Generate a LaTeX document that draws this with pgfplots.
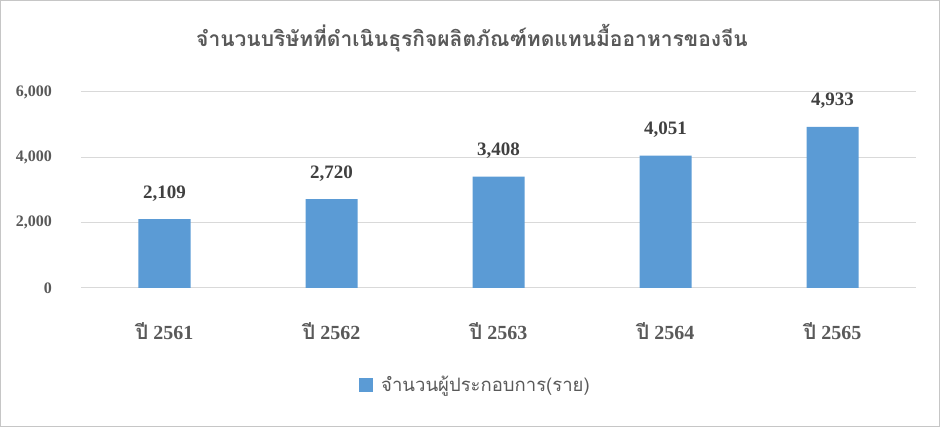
\documentclass[border=0pt]{standalone}
\usepackage{pgfplots}
\pgfplotsset{compat=1.18}
\usepackage{fontspec}
\setmainfont{Liberation Serif}
\newfontfamily\thai[Script=Thai]{Loma}
\definecolor{bar}{HTML}{5B9BD5}
\definecolor{txt}{HTML}{595959}
\definecolor{lab}{HTML}{404040}
\definecolor{gridc}{HTML}{D9D9D9}
\begin{document}
\begin{tikzpicture}[x=1pt,y=1pt]
  \draw[line width=0.8pt, color=gray!45] (0.4,0.4) rectangle (939.6,426.6);
  \node[font=\thai\bfseries\fontsize{21}{24}\selectfont, text=txt, anchor=base] at (472,380) {จำนวนบริษัทที่ดำเนินธุรกิจผลิตภัณฑ์ทดแทนมื้ออาหารของจีน};
  \begin{axis}[
    at={(81pt,139pt)}, anchor=south west,
    scale only axis, width=835pt, height=196pt,
    ymin=0, ymax=6000, ytick={0,2000,4000,6000},
    xmin=-0.5, xmax=4.5, xtick=data,
    xticklabels={{\thai ปี} 2561,{\thai ปี} 2562,{\thai ปี} 2563,{\thai ปี} 2564,{\thai ปี} 2565},
    axis line style={draw=none}, tick style={draw=none},
    xmajorgrids=false, ymajorgrids=true, grid style={color=gridc, line width=1pt},
    /pgf/number format/assume math mode=true,
    /pgf/number format/1000 sep={,},
    yticklabel style={font=\bfseries\fontsize{16}{18}\selectfont, text=txt, anchor=east, inner sep=0pt, xshift=-29pt},
    xticklabel style={font=\bfseries\fontsize{20}{23}\selectfont, text=txt, anchor=base, inner sep=0pt, yshift=-47pt},
    ybar, bar width=52pt,
    nodes near coords={\pgfmathprintnumber\pgfplotspointmeta},
    nodes near coords style={font=\bfseries\fontsize{19}{22}\selectfont, text=lab, anchor=base, inner sep=0pt, yshift=21pt},
    legend style={at={(0.476,-0.495)}, anchor=center, draw=none, fill=none,
      font=\thai\fontsize{18.5}{21}\selectfont, text=txt,
      nodes={inner xsep=8pt}},
    legend image code/.code={\fill[#1] (-8pt,-7pt) rectangle (6pt,7pt);},
  ]
    \addplot[fill=bar, draw=none] coordinates {(0,2109) (1,2720) (2,3408) (3,4051) (4,4933)};
    \addlegendentry{จำนวนผู้ประกอบการ(ราย)}
  \end{axis}
\end{tikzpicture}
\end{document}
